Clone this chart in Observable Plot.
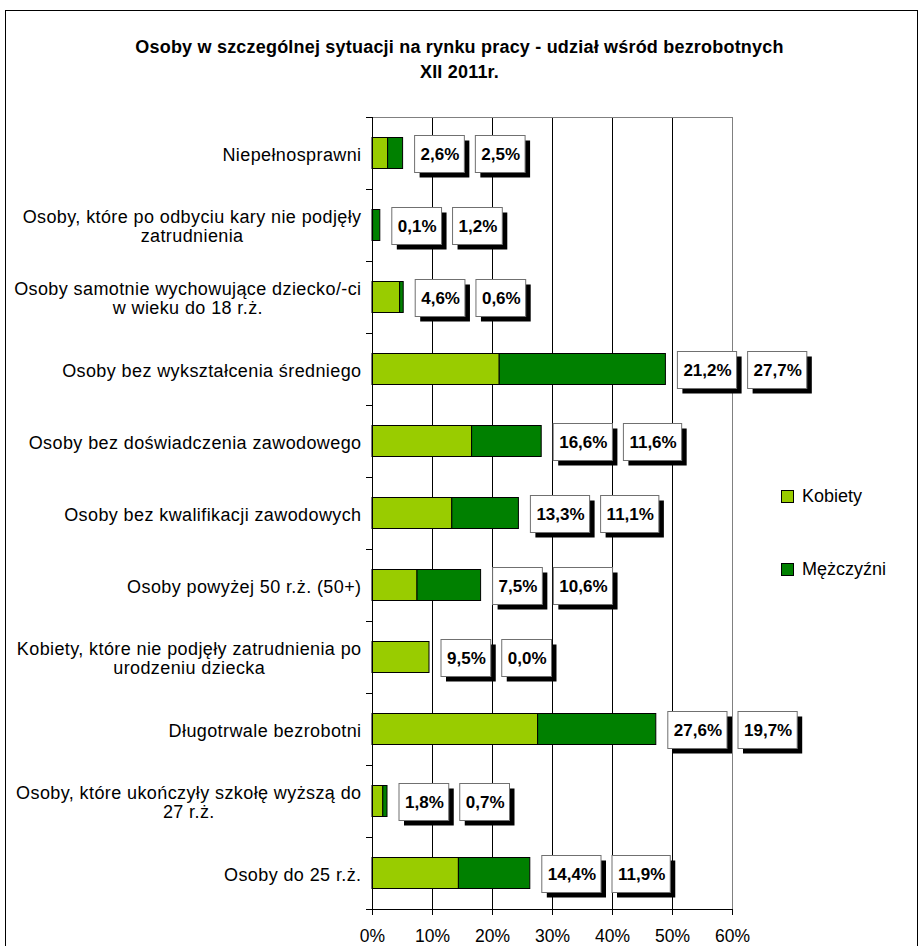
<!DOCTYPE html>
<html><head><meta charset="utf-8">
<script src="https://cdn.jsdelivr.net/npm/d3@7"></script>
<script src="https://cdn.jsdelivr.net/npm/@observablehq/plot@0.6"></script>
<style>
body{margin:0;background:#fff;font-family:"Liberation Sans",Arial,sans-serif;color:#000;}
#wrap{position:relative;width:919px;height:946px;overflow:hidden;background:#fff;}
#border{position:absolute;left:5px;top:10px;width:911px;height:960px;border:1px solid #000;pointer-events:none;}
#title{position:absolute;left:0;top:35px;width:919px;text-align:center;font-weight:bold;font-size:18px;letter-spacing:0.2px;line-height:25px;}
#chart{position:absolute;left:0;top:100px;}
#legend{position:absolute;left:781px;top:484px;font-size:18px;}
.li{display:flex;align-items:center;height:24px;}
.li + .li{margin-top:49px;}
.sw{width:11px;height:11px;border:1px solid #000;margin-right:8px;}
</style>
</head><body>
<div id="wrap">
  <div id="title">Osoby w szczególnej sytuacji na rynku pracy - udział wśród bezrobotnych<br>XII 2011r.</div>
  <div id="chart"></div>
  <div id="legend"></div>
  <div id="border"></div>
</div>
<script>
const categories = [
  "Niepełnosprawni",
  "Osoby, które po odbyciu kary nie podjęły\nzatrudnienia",
  "Osoby samotnie wychowujące dziecko/-ci\nw wieku do 18 r.ż.",
  "Osoby bez wykształcenia średniego",
  "Osoby bez doświadczenia zawodowego",
  "Osoby bez kwalifikacji zawodowych",
  "Osoby powyżej 50 r.ż. (50+)",
  "Kobiety, które nie podjęły zatrudnienia po\nurodzeniu dziecka",
  "Długotrwale bezrobotni",
  "Osoby, które ukończyły szkołę wyższą do\n27 r.ż.",
  "Osoby do 25 r.ż."
];
const kobiety   = [2.6, 0.1, 4.6, 21.2, 16.6, 13.3, 7.5, 9.5, 27.6, 1.8, 14.4];
const mezczyzni = [2.5, 1.2, 0.6, 27.7, 11.6, 11.1, 10.6, 0.0, 19.7, 0.7, 11.9];
const seriesNames = ["Kobiety", "Mężczyźni"];
const seriesColors = ["#99cc00", "#008000"];
const xTicks = [0, 10, 20, 30, 40, 50, 60];

const W = 919, H = 846, mL = 372, mR = 187, mT = 17, mB = 37;
const step = (H - mT - mB) / categories.length;
const xMax = xTicks[xTicks.length - 1];
const ppu = (W - mL - mR) / xMax;

const stacked = [];
categories.forEach((c, i) => {
  stacked.push({cat: c, series: seriesNames[0], value: kobiety[i]});
  stacked.push({cat: c, series: seriesNames[1], value: mezczyzni[i]});
});

const ctx = document.createElement("canvas").getContext("2d");
function tw(s, font, ls = 0) { ctx.font = font; return ctx.measureText(s).width + ls * s.length; }
const fmt = v => v.toFixed(1).replace(".", ",") + "%";
const boxFont = "bold 17px 'Liberation Sans'";
const labelFont = "18px 'Liberation Sans'";
const labelLS = 0.4;

const boxes = [];
categories.forEach((c, i) => {
  const total = kobiety[i] + mezczyzni[i];
  let left = total * ppu + 12;
  [kobiety[i], mezczyzni[i]].forEach(v => {
    const t = fmt(v);
    const w = tw(t, boxFont) + 11;
    boxes.push({cat: c, x1: left / ppu, x2: (left + w) / ppu, text: t});
    left += w + 11;
  });
});

const labelMarks = categories.map(c => {
  const lines = c.split("\n");
  const maxW = Math.max(...lines.map(l => tw(l, labelFont, labelLS)));
  return Plot.text([c], {y: d => d, text: d => d, frameAnchor: "left", textAnchor: "middle",
    dx: -11 - maxW / 2, dy: 1, lineHeight: 1.06, fontSize: 18, fill: "#000",
    render: (index, scales, values, dims, context, next) => {
      const g = next(index, scales, values, dims, context);
      g.setAttribute("letter-spacing", labelLS);
      return g;
    }});
});

const chart = Plot.plot({
  width: W, height: H, marginLeft: mL, marginRight: mR, marginTop: mT, marginBottom: mB,
  style: {fontFamily: "'Liberation Sans', Arial, sans-serif", fontSize: "17px", color: "#000", background: "transparent"},
  x: {domain: [0, xMax], label: null},
  y: {domain: categories, padding: 0, axis: null},
  color: {domain: seriesNames, range: seriesColors},
  marks: [
    Plot.ruleX(xTicks.filter(t => t > 0 && t < xMax), {stroke: "#000", strokeWidth: 1}),
    Plot.ruleX([xMax], {stroke: "#808080"}),
    Plot.ruleY([categories[0]], {dy: -step / 2, stroke: "#808080"}),
    Plot.barX(stacked, Plot.stackX({x: "value", y: "cat", fill: "series", stroke: "#000", strokeWidth: 1, insetTop: 20.5, insetBottom: 20.5})),
    Plot.barX(boxes, {x1: "x1", x2: "x2", y: "cat", fill: "#000", insetTop: 17.5, insetBottom: 17.5, dx: 5, dy: 6}),
    Plot.barX(boxes, {x1: "x1", x2: "x2", y: "cat", fill: "#fff", stroke: "#707070", insetTop: 17.5, insetBottom: 17.5, dy: 1}),
    Plot.text(boxes, {x: d => (d.x1 + d.x2) / 2, y: "cat", text: "text", fontWeight: "bold", fontSize: 17, dy: 1, fill: "#000"}),
    Plot.ruleX([0], {stroke: "#000"}),
    Plot.ruleY(categories, {dy: -step / 2, x1: 0, x2: 0, insetLeft: -6, stroke: "#000"}),
    Plot.ruleY([categories[categories.length - 1]], {dy: step / 2, x1: 0, x2: xMax, insetLeft: -6, stroke: "#000"}),
    Plot.axisX({ticks: xTicks, tickFormat: d => d + "%", tickSize: 6, tickPadding: 14, fontSize: 17.5, stroke: "#000", label: null}),
    ...labelMarks
  ]
});
document.getElementById("chart").appendChild(chart);

const legend = document.getElementById("legend");
seriesNames.forEach((n, i) => {
  const row = document.createElement("div");
  row.className = "li";
  const sw = document.createElement("div");
  sw.className = "sw";
  sw.style.background = seriesColors[i];
  const t = document.createElement("span");
  t.textContent = n;
  row.appendChild(sw); row.appendChild(t);
  legend.appendChild(row);
});
</script>
</body></html>
